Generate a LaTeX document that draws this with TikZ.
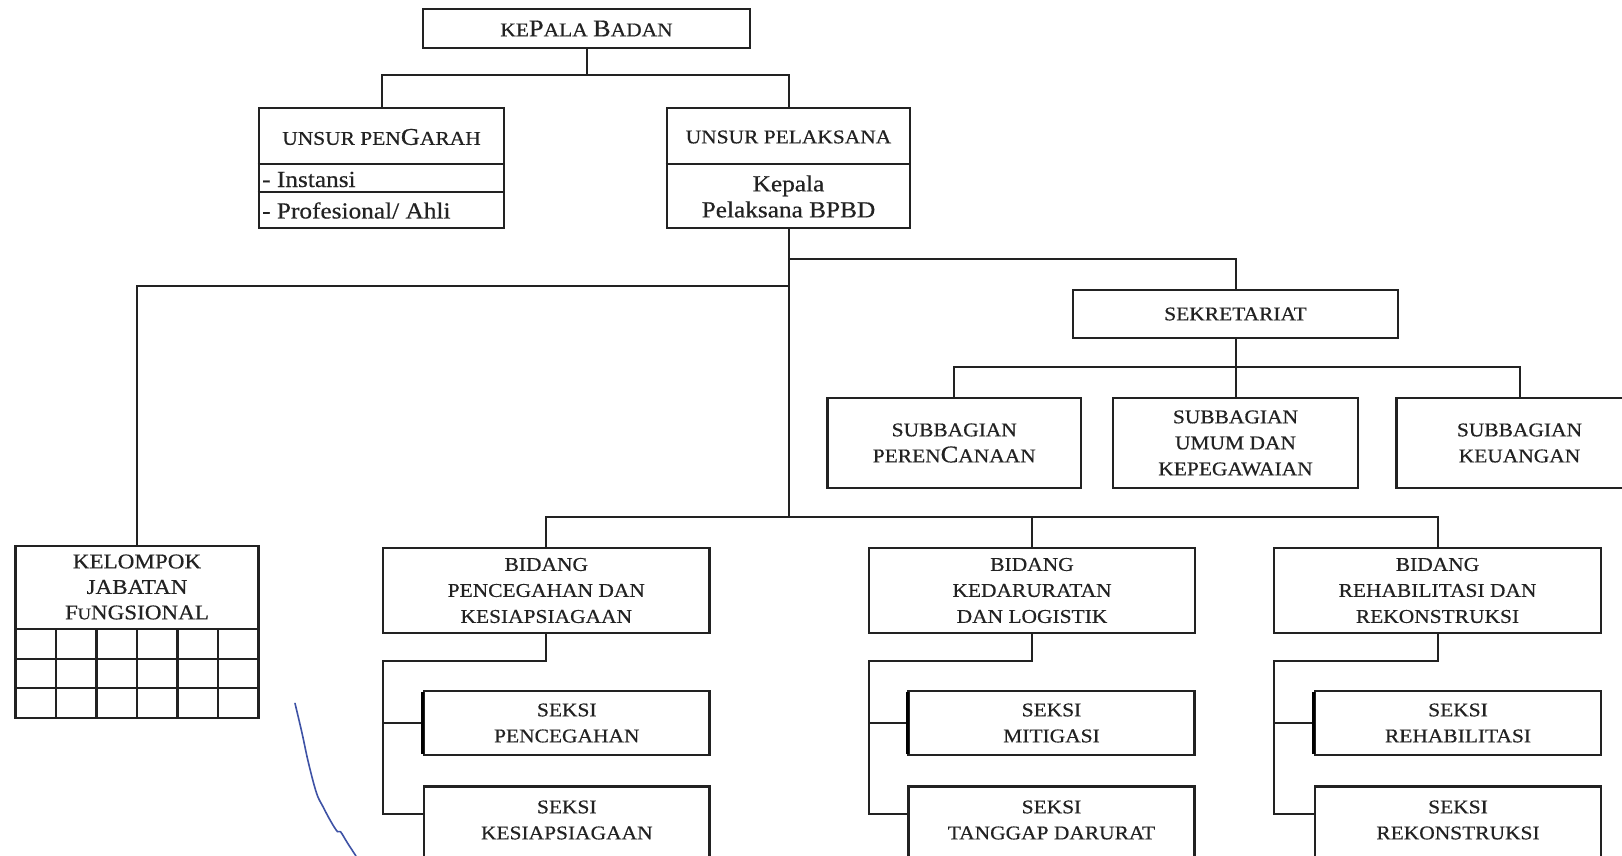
\documentclass[tikz,border=0pt]{standalone}
\usepackage{fontspec}
\setmainfont{Liberation Serif}[FakeStretch=1.1, FakeBold=0.5]
\usetikzlibrary{calc}
\definecolor{ink}{HTML}{222222}
\definecolor{pen}{RGB}{62,82,165}
\newcommand\fs{\fontsize{19.5}{26}\selectfont}
\newcommand\fsl{\fontsize{23}{26}\selectfont}
\newcommand\bigL[1]{{\fontsize{24}{26}\selectfont #1}}
\newcommand\smL[1]{{\fontsize{16.5}{26}\selectfont #1}}
\tikzset{
  box/.style={draw=ink, line width=2.6pt, rectangle, inner sep=0pt, align=center, font=\fs, text=ink},
  wire/.style={draw=ink, line width=2pt},
  lbl/.style={text=ink, align=center, font=\fs, inner sep=0pt},
  lowl/.style={text=ink, align=center, font=\fsl, inner sep=0pt},
  cell/.style={draw=ink, line width=2.4pt},
  bold edge/.style={draw=black, line width=3.4pt},
  scribble/.style={draw=pen, line width=1.6pt, line cap=round, line join=round},
}
\begin{document}
\begin{tikzpicture}[x=1pt,y=-1pt]
\path[use as bounding box, clip] (0,0) rectangle (1622,856);
\fill[white] (0,0) rectangle (1622,856);

% top level
\node[box, minimum width=327, minimum height=39] (kb) at (586.5,28.5) {KE\bigL{P}ALA \bigL{B}ADAN};

% unsur pengarah
\node[box, minimum width=245, minimum height=120] (up) at (381.5,168) {};
\draw[cell] ([yshift=-57.5pt]up.north west) -- ([yshift=-57.5pt]up.north east);
\draw[cell] ([yshift=-85.5pt]up.north west) -- ([yshift=-85.5pt]up.north east);
\node[lbl] (upt) at (381.5,137) {UNSUR PEN\bigL{G}ARAH};
\node[lowl, anchor=west] (up1) at (262,179.5) {- Instansi};
\node[lowl, anchor=west] (up2) at (262,210.5) {- Profesional/ Ahli};

% unsur pelaksana
\node[box, minimum width=243, minimum height=120] (pl) at (788.5,168) {};
\draw[cell] ([yshift=-57.5pt]pl.north west) -- ([yshift=-57.5pt]pl.north east);
\node[lbl] (plt) at (788.5,137) {UNSUR PELAKSANA};
\node[lowl] (plk) at (788.5,196.5) {Kepala\\Pelaksana BPBD};

% sekretariat
\node[box, minimum width=325, minimum height=48] (sek) at (1235.5,314) {SEKRETARIAT};
\node[box, minimum width=253.5, minimum height=90] (sb1) at (954.25,443) {SUBBAGIAN\\PEREN\bigL{C}ANAAN};
\node[box, minimum width=245, minimum height=90] (sb2) at (1235.5,443) {SUBBAGIAN\\UMUM DAN\\KEPEGAWAIAN};
\node[box, minimum width=246, minimum height=90] (sb3) at (1519.5,443) {SUBBAGIAN\\KEUANGAN};

% bidang
\node[box, minimum width=326.6, minimum height=85] (b1) at (546.3,590.5) {BIDANG\\PENCEGAHAN DAN\\KESIAPSIAGAAN};
\node[box, minimum width=326, minimum height=85] (b2) at (1032,590.5) {BIDANG\\KEDARURATAN\\DAN LOGISTIK};
\node[box, minimum width=327, minimum height=85] (b3) at (1437.5,590.5) {BIDANG\\REHABILITASI DAN\\REKONSTRUKSI};

% seksi
\node[box, minimum width=285.6, minimum height=64] (s11) at (566.8,723) {SEKSI\\PENCEGAHAN};
\node[box, minimum width=285.6, minimum height=110, anchor=north] (s12) at (566.8,785) {};
\node[lbl] (s12t) at (566.8,820) {SEKSI\\KESIAPSIAGAAN};
\node[box, minimum width=286, minimum height=64] (s21) at (1051.5,723) {SEKSI\\MITIGASI};
\node[box, minimum width=286, minimum height=110, anchor=north] (s22) at (1051.5,785) {};
\node[lbl] (s22t) at (1051.5,820) {SEKSI\\TANGGAP DARURAT};
\node[box, minimum width=286, minimum height=64] (s31) at (1458,723) {SEKSI\\REHABILITASI};
\node[box, minimum width=286, minimum height=110, anchor=north] (s32) at (1458,785) {};
\node[lbl] (s32t) at (1458,820) {SEKSI\\REKONSTRUKSI};

% kelompok jabatan fungsional
\node[box, minimum width=243, minimum height=172] (kjf) at (137,632) {};
\node[lbl, font=\fontsize{21}{25.5}\selectfont] (kjft) at (137,587) {KELOMPOK\\JABATAN\\F\smL{U}NGSIONAL};
\foreach \yy in {629,659,688} \draw[cell] (15.5,\yy) -- (258.5,\yy);
\foreach \k in {1,...,5} \draw[cell] (15.5+40.5*\k,629) -- (15.5+40.5*\k,718);

% connectors top
\coordinate (t1) at (586.5,75.5);
\draw[wire] (kb.south) -- (t1);
\draw[wire] (up.north) |- (t1) -| (pl.north);

\coordinate (j) at (788.5,517);
\coordinate (jl) at (788.5,285.5);
\coordinate (jr) at (788.5,258.6);
\draw[wire] (pl.south) -- (j);
\draw[wire] (jl) -| (kjf.north);
\draw[wire] (jr) -| (sek.north);

\coordinate (sj) at (1235.5,367);
\draw[wire] (sek.south) -- (sb2.north);
\draw[wire] (sb1.north) |- (sj) -| (sb3.north);

\draw[wire] (b1.north) |- (j) -| (b3.north);
\draw[wire] (j) -| (b2.north);

% seksi connectors
\coordinate (k1) at (383,661);
\coordinate (k2) at (869,661);
\coordinate (k3) at (1274,661);
\coordinate (m1) at (383,814);
\coordinate (m2) at (869,814);
\coordinate (m3) at (1274,814);
\draw[wire] (b1.south) |- (k1) -- (m1) -- (m1 -| s12.west);
\draw[wire] (b2.south) |- (k2) -- (m2) -- (m2 -| s22.west);
\draw[wire] (b3.south) |- (k3) -- (m3) -- (m3 -| s32.west);
\draw[wire] (k1 |- s11.west) -- (s11.west);
\draw[wire] (k2 |- s21.west) -- (s21.west);
\draw[wire] (k3 |- s31.west) -- (s31.west);
\draw[bold edge] ([yshift=-2pt]s11.north west) -- ([yshift=2pt]s11.south west);
\draw[bold edge] ([yshift=-2pt]s21.north west) -- ([yshift=2pt]s21.south west);
\draw[bold edge] ([yshift=-2pt]s31.north west) -- ([yshift=2pt]s31.south west);

% pen stroke
\draw[scribble] plot[smooth, tension=0.6] coordinates {(295,703.3) (302,733) (308.5,763) (316.5,793) (323,806.7) (331,821.7) (337.5,831.7) (340.5,831.7) (347.5,843) (356,856)};
\end{tikzpicture}
\end{document}
